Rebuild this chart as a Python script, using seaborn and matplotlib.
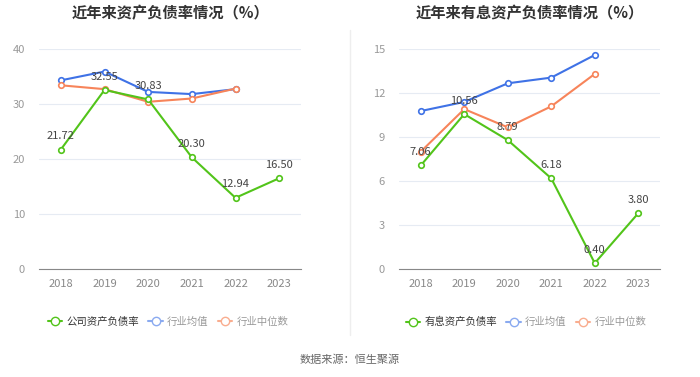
import numpy as np
import pandas as pd
import seaborn as sns
import matplotlib.pyplot as plt
from matplotlib.lines import Line2D

sns.set_style("white")
plt.rcParams['font.family'] = ['Noto Sans CJK SC', 'DejaVu Sans']

years = ['2018', '2019', '2020', '2021', '2022', '2023']

# left: asset-liability ratio
company_ratio = [21.72, 32.55, 30.83, 20.30, 12.94, 16.50]
industry_avg = [34.3, 35.9, 32.2, 31.8, 32.7, np.nan]
industry_median = [33.4, 32.7, 30.4, 31.0, 32.8, np.nan]

# right: interest-bearing liability ratio
interest_ratio = [7.06, 10.56, 8.79, 6.18, 0.40, 3.80]
interest_avg = [10.77, 11.39, 12.66, 13.05, 14.59, np.nan]
interest_median = [8.0, 10.9, 9.66, 11.09, 13.3, np.nan]

GREEN = '#52c41a'
BLUE = '#3f72e6'
ORANGE = '#f7845a'

fig = plt.figure(figsize=(7, 3.77), dpi=100)
ax1 = fig.add_axes([39/700, 1-269/377, 262/700, 220/377])
ax2 = fig.add_axes([399/700, 1-269/377, 261/700, 220/377])


def draw(ax, main, avg, med, ymax, step, title, main_name, legend_x):
    x = np.arange(len(years))
    df = pd.DataFrame({'x': x, 'main': main, 'avg': avg, 'med': med})
    for col, c in [('avg', BLUE), ('med', ORANGE), ('main', GREEN)]:
        d = df.dropna(subset=[col])
        sns.lineplot(data=d, x='x', y=col, ax=ax, color=c, lw=1.5,
                     marker='o', markersize=4, markerfacecolor='white',
                     markeredgecolor=c, markeredgewidth=1.2, zorder=3)
    for xi, v in zip(x, main):
        ax.annotate(f'{v:.2f}', (xi, v), xytext=(0, 6), textcoords='offset points',
                    ha='center', va='bottom', fontsize=8, color='#444444', zorder=4)
    ax.set_xlim(-0.5, len(years) - 0.5)
    ax.set_ylim(0, ymax)
    ax.set_yticks(np.arange(0, ymax + 0.01, step))
    ax.set_xticks(x)
    ax.set_xticklabels(years)
    ax.set_xlabel('')
    ax.set_ylabel('')
    ax.grid(axis='y', color='#e6ebf3', lw=0.8)
    ax.set_axisbelow(True)
    for s in ['top', 'right', 'left']:
        ax.spines[s].set_visible(False)
    ax.spines['bottom'].set_color('#888888')
    ax.tick_params(axis='x', length=4, color='#888888', labelsize=8, labelcolor='#888888', pad=3)
    ax.tick_params(axis='y', length=0, labelsize=8, labelcolor='#999999', pad=10)
    ax.set_title(title, fontsize=11, fontweight='bold', color='#333333', pad=22)
    handles = [
        Line2D([], [], color=GREEN, marker='o', markersize=6, markerfacecolor='white', lw=1.5),
        Line2D([], [], color='#8aaaf0', marker='o', markersize=6, markerfacecolor='white', lw=1.5),
        Line2D([], [], color='#f9ad8f', marker='o', markersize=6, markerfacecolor='white', lw=1.5),
    ]
    leg = fig.legend(handles, [main_name, '行业均值', '行业中位数'], loc='center',
                     bbox_to_anchor=(legend_x, 1-322/377), ncol=3, frameon=False,
                     fontsize=7.5, handlelength=1.4, handletextpad=0.4, columnspacing=0.9)
    for i, t in enumerate(leg.get_texts()):
        t.set_color('#333333' if i == 0 else '#999999')


draw(ax1, company_ratio, industry_avg, industry_median, 40, 10,
     '近年来资产负债率情况（%）', '公司资产负债率', 168/700)
draw(ax2, interest_ratio, interest_avg, interest_median, 15, 3,
     '近年来有息资产负债率情况（%）', '有息资产负债率', 526/700)

fig.add_artist(Line2D([350/700, 350/700], [1-30/377, 1-335/377], color='#eeeeee', lw=1))
fig.text(0.5, 1-360/377, '数据来源：恒生聚源', ha='center', va='center', fontsize=8, color='#666666')

fig.savefig('out.png', dpi=100)
